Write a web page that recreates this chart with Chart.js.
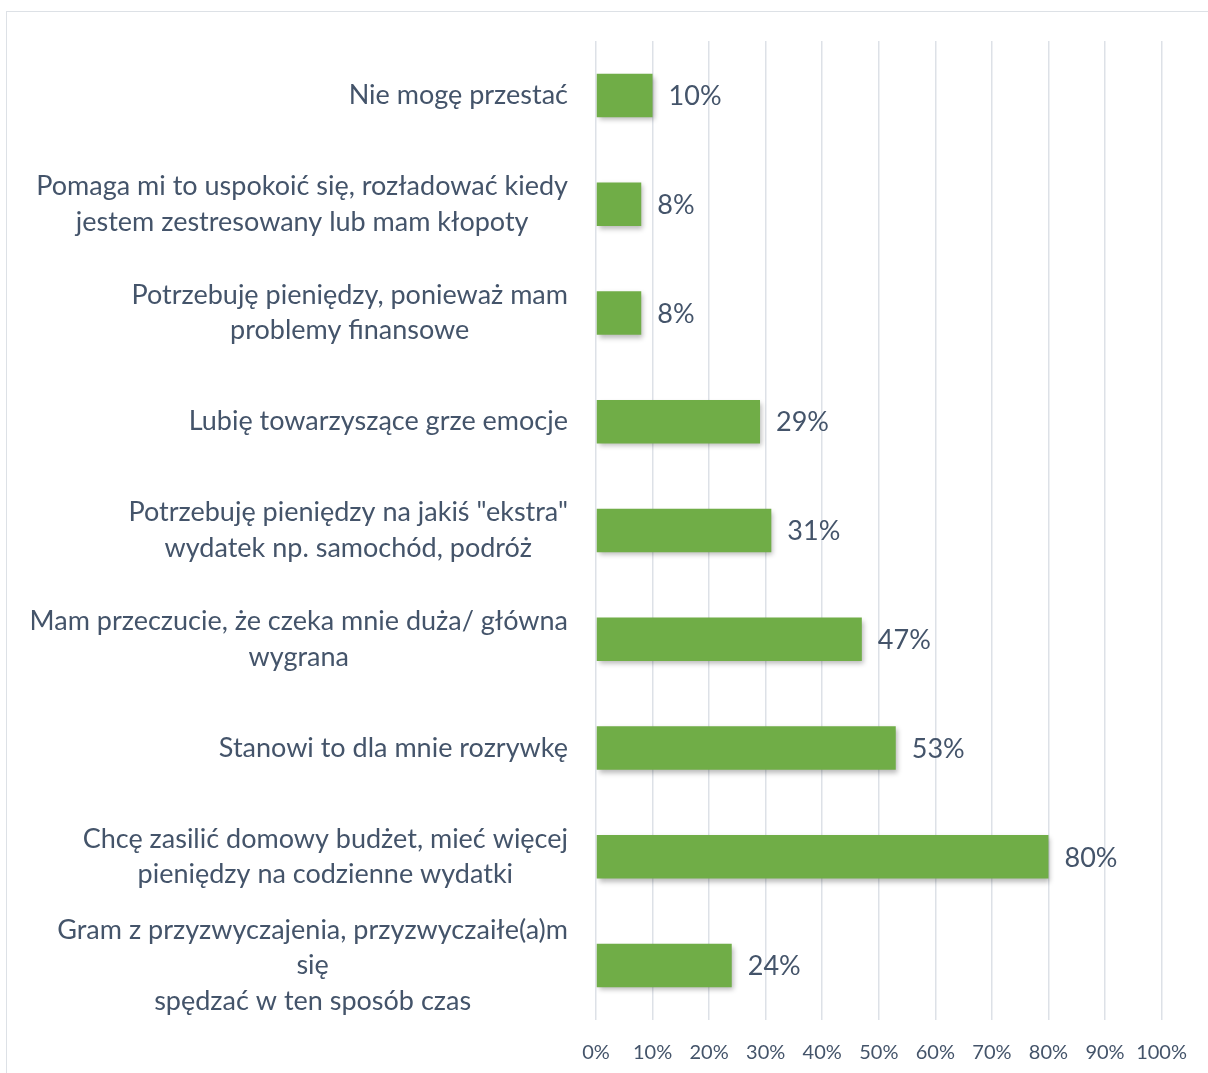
<!DOCTYPE html>
<html>
<head>
<meta charset="utf-8">
<script src="https://cdn.jsdelivr.net/npm/chart.js@4.4.1/dist/chart.umd.min.js"></script>
<style>
  html, body { margin: 0; padding: 0; background: #fff; overflow: hidden; }
  #frame { position: absolute; left: 6px; top: 11px; width: 1240px; height: 1100px; border: 1.5px solid #dde1e6; }
  #wrap { position: absolute; left: 0; top: 0; width: 1208px; height: 1073px; }
</style>
</head>
<body>
<div id="frame"></div>
<div id="wrap"><canvas id="chart" width="1208" height="1073"></canvas></div>
<script>
// categories (top to bottom), already wrapped the way the source shows them
const categories = [
  ['Nie mogę przestać'],
  ['Pomaga mi to uspokoić się, rozładować kiedy', 'jestem zestresowany lub mam kłopoty'],
  ['Potrzebuję pieniędzy, ponieważ mam', 'problemy finansowe'],
  ['Lubię towarzyszące grze emocje'],
  ['Potrzebuję pieniędzy na jakiś "ekstra"', 'wydatek np. samochód, podróż'],
  ['Mam przeczucie, że czeka mnie duża/ główna', 'wygrana'],
  ['Stanowi to dla mnie rozrywkę'],
  ['Chcę zasilić domowy budżet, mieć więcej', 'pieniędzy na codzienne wydatki'],
  ['Gram z przyzwyczajenia, przyzwyczaiłe(a)m', 'się', 'spędzać w ten sposób czas']
];
const values = [10, 8, 8, 29, 31, 47, 53, 80, 24];
const xTicks = [0, 10, 20, 30, 40, 50, 60, 70, 80, 90, 100];

const TEXT = '#44546a';
const FONT = 'Lato, "Open Sans", sans-serif';

// bar shadow, like the office drop shadow
const barShadow = {
  id: 'barShadow',
  beforeDatasetsDraw(chart) {
    const ctx = chart.ctx;
    ctx.save();
    ctx.shadowColor = 'rgba(0,0,0,0.28)';
    ctx.shadowBlur = 5;
    ctx.shadowOffsetX = 2;
    ctx.shadowOffsetY = 3;
  },
  afterDatasetsDraw(chart) { chart.ctx.restore(); }
};

// category labels: block right-aligned, lines centred inside the block
const catLabels = {
  id: 'catLabels',
  afterDraw(chart) {
    const ctx = chart.ctx, y = chart.scales.y;
    const right = 568, lh = 35.5;
    ctx.save();
    ctx.font = '27px ' + FONT;
    ctx.fillStyle = TEXT;
    ctx.textAlign = 'center';
    ctx.textBaseline = 'middle';
    categories.forEach((lines, i) => {
      const w = Math.max(...lines.map(l => ctx.measureText(l).width));
      const cx = right - w / 2;
      const cy = y.getPixelForValue(i);
      const top = cy - (lines.length - 1) * lh / 2;
      lines.forEach((l, k) => ctx.fillText(l, cx, top + k * lh));
    });
    ctx.restore();
  }
};

// value labels to the right of each bar
const valueLabels = {
  id: 'valueLabels',
  afterDatasetsDraw(chart) {
    const ctx = chart.ctx, meta = chart.getDatasetMeta(0);
    ctx.save();
    ctx.font = '27px ' + FONT;
    ctx.fillStyle = TEXT;
    ctx.textAlign = 'left';
    ctx.textBaseline = 'middle';
    meta.data.forEach((bar, i) => ctx.fillText(values[i] + '%', bar.x + 16, bar.y + 1));
    ctx.restore();
  }
};

new Chart(document.getElementById('chart'), {
  type: 'bar',
  data: {
    labels: categories.map(c => c.join(' ')),
    datasets: [{ data: values, backgroundColor: '#70ad47', borderWidth: 0, barPercentage: 0.4, categoryPercentage: 1 }]
  },
  options: {
    indexAxis: 'y',
    responsive: false,
    animation: false,
    events: [],
    layout: { padding: { left: 596, right: 45, top: 41, bottom: 0 } },
    plugins: { legend: { display: false }, tooltip: { enabled: false } },
    scales: {
      y: { display: false },
      x: {
        min: 0, max: 100,
        afterBuildTicks: (s) => { s.ticks = xTicks.map(v => ({ value: v })); },
        afterFit: (s) => { s.height = 53; },
        grid: { color: '#dde1e7', lineWidth: 1.5, drawTicks: false },
        border: { display: false },
        ticks: { color: TEXT, font: { family: FONT, size: 20 }, padding: 21, maxRotation: 0, minRotation: 0, autoSkip: false, callback: (v) => v + '%' }
      }
    }
  },
  plugins: [barShadow, valueLabels, catLabels]
});
</script>
</body>
</html>
